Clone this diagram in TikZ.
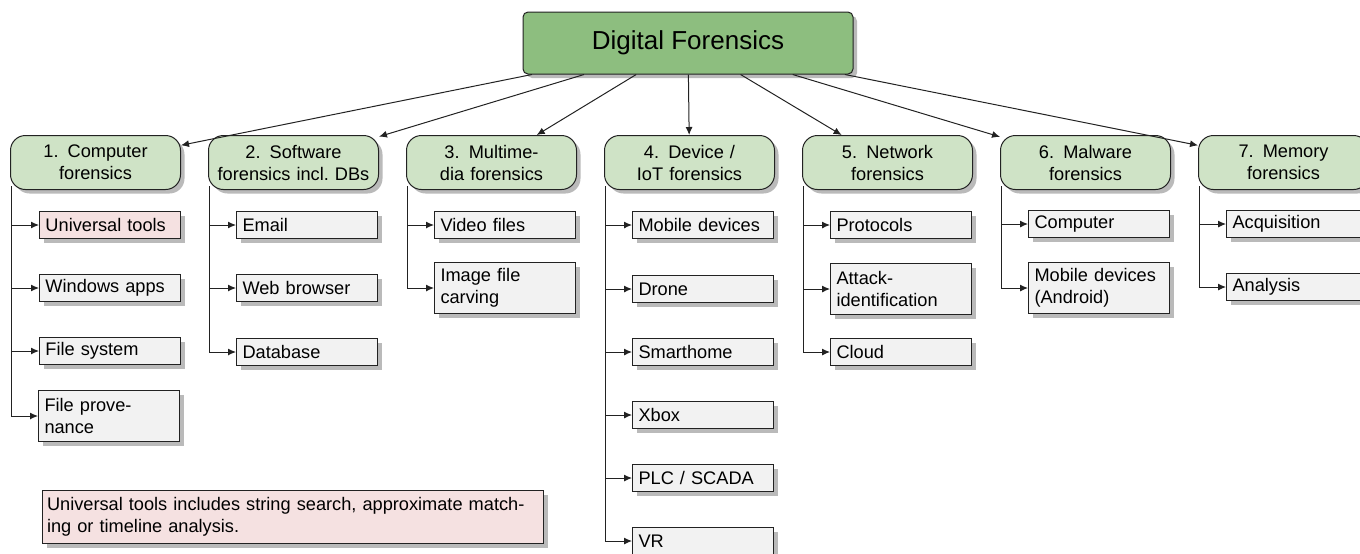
\documentclass[tikz,border=0pt]{standalone}
\usepackage{fontspec}
\setmainfont{Liberation Sans}
\usetikzlibrary{arrows.meta,shadows}

\definecolor{rootgreen}{HTML}{8DBE7F}
\definecolor{catgreen}{HTML}{CFE3C6}
\definecolor{leafgray}{HTML}{F2F2F2}
\definecolor{notepink}{HTML}{F5E1E1}
\definecolor{edgegray}{HTML}{222222}

\newcommand{\leaffont}{\fontsize{9.1pt}{11pt}\selectfont}
\newcommand{\rootfont}{\fontsize{13pt}{15pt}\selectfont}

\tikzset{
  shade box/.style={drop shadow={shadow xshift=2pt,shadow yshift=-2pt,fill=black!27,opacity=1}},
  rootbox/.style={draw=edgegray, line width=0.5pt, fill=rootgreen, rounded corners=2.5pt,
    minimum width=165pt, minimum height=31pt, font=\rootfont, shade box},
  catbox/.style={draw=edgegray, line width=0.5pt, fill=catgreen, rounded corners=7.5pt,
    anchor=north west, minimum width=85pt, minimum height=27pt, text width=80pt,
    inner xsep=2.5pt, inner ysep=1pt, align=center, font=\leaffont, shade box},
  leafbox/.style={draw=edgegray, line width=0.5pt, fill=leafgray, anchor=north west,
    minimum width=70.5pt, minimum height=13.5pt, text width=64.5pt,
    inner xsep=3pt, inner ysep=1pt, align=left, font=\leaffont, shade box},
  tallbox/.style={leafbox, minimum height=25.5pt},
  pinkbox/.style={fill=notepink},
  link/.style={draw=edgegray, line width=0.5pt, -{Latex[length=4pt,width=3.5pt]}},
}

\begin{document}
\begin{tikzpicture}[x=0.5pt,y=-0.5pt]
\clip (0,0) rectangle (1360,553);
\useasboundingbox (0,0) rectangle (1360,553);

% root
\node[rootbox] (root) at (688,43) {Digital Forensics};

% categories
\node[catbox] (c1) at (10,135)   {1.  Computer\\forensics};
\node[catbox] (c2) at (208,135)  {2.  Software\\forensics incl.\ DBs};
\node[catbox] (c3) at (406,135)  {3.  Multime-\\dia forensics};
\node[catbox] (c4) at (604,135)  {4.  Device /\\IoT forensics};
\node[catbox] (c5) at (802,135)  {5.  Network\\forensics};
\node[catbox] (c6) at (1000,135) {6.  Malware\\forensics};
\node[catbox] (c7) at (1198,135) {7.  Memory\\forensics};

\foreach \c in {c1,c2,c3,c4,c5,c6,c7}
  \draw[link] (root) -- (\c);

% 1. computer forensics
\node[leafbox,pinkbox] (l1a) at (39,211) {Universal tools};
\node[leafbox] (l1b) at (39,274) {Windows apps};
\node[leafbox] (l1c) at (39,337) {File system};
\node[tallbox] (l1d) at (38,390) {File prove-\\nance};

% 2. software forensics
\node[leafbox] (l2a) at (236,211) {Email};
\node[leafbox] (l2b) at (236,274) {Web browser};
\node[leafbox] (l2c) at (236,338) {Database};

% 3. multimedia forensics
\node[leafbox] (l3a) at (434,211) {Video files};
\node[tallbox] (l3b) at (434,262) {Image file\\carving};

% 4. device / IoT forensics
\node[leafbox] (l4a) at (632,211) {Mobile devices};
\node[leafbox] (l4b) at (632,275) {Drone};
\node[leafbox] (l4c) at (632,338) {Smarthome};
\node[leafbox] (l4d) at (632,401) {Xbox};
\node[leafbox] (l4e) at (632,464) {PLC / SCADA};
\node[leafbox] (l4f) at (632,527) {VR};

% 5. network forensics
\node[leafbox] (l5a) at (830,211) {Protocols};
\node[tallbox] (l5b) at (830,263) {Attack-\\identification};
\node[leafbox] (l5c) at (830,338) {Cloud};

% 6. malware forensics
\node[leafbox] (l6a) at (1028,210) {Computer};
\node[tallbox] (l6b) at (1028,262) {Mobile devices\\(Android)};

% 7. memory forensics
\node[leafbox] (l7a) at (1226,210) {Acquisition};
\node[leafbox] (l7b) at (1226,273) {Analysis};

% tree connectors
\foreach \c/\l in {c1/l1a,c1/l1b,c1/l1c,c1/l1d,
                   c2/l2a,c2/l2b,c2/l2c,
                   c3/l3a,c3/l3b,
                   c4/l4a,c4/l4b,c4/l4c,c4/l4d,c4/l4e,c4/l4f,
                   c5/l5a,c5/l5b,c5/l5c,
                   c6/l6a,c6/l6b,
                   c7/l7a,c7/l7b}
  \draw[link] ([xshift=0.5pt,yshift=2pt]\c.south west) |- (\l.west);

% footnote
\node[leafbox,pinkbox,minimum width=250.5pt,minimum height=26.5pt,text width=246pt,inner xsep=2pt]
  (note) at (42,490) {Universal tools includes string search, approximate match-\\ing or timeline analysis.};
\end{tikzpicture}
\end{document}
